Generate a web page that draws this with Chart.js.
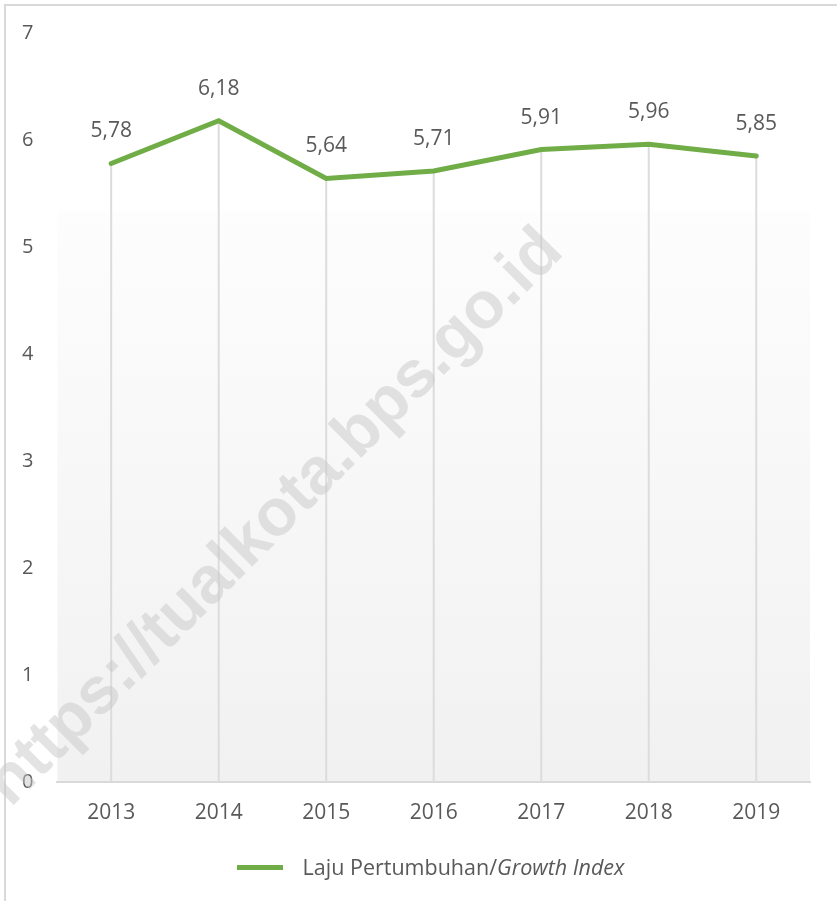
<!DOCTYPE html>
<html>
<head>
<meta charset="utf-8">
<script src="https://cdn.jsdelivr.net/npm/chart.js@4/dist/chart.umd.min.js"></script>
<style>
  html, body { margin: 0; padding: 0; background: #fff; }
  #wrap { position: relative; width: 837px; height: 901px; overflow: hidden; }
  #frame { position: absolute; left: 4px; top: 4px; width: 900px; height: 960px;
           border-left: 2px solid #d9d9d9; border-top: 2px solid #d9d9d9; }
  canvas { position: absolute; left: 0; top: 0; }
  #legend { position: absolute; left: 12px; width: 837px; top: 852px; text-align: center;
            font-family: "Open Sans", sans-serif; font-size: 21.5px; color: #595959; }
  #legend .sw { display: inline-block; width: 46px; height: 5px; background: #70ad47;
                vertical-align: middle; margin-right: 20px; position: relative; top: -2px; }
</style>
</head>
<body>
<div id="wrap">
  <div id="frame"></div>
  <canvas id="c" width="837" height="901"></canvas>
  <div id="legend"><span class="sw"></span>Laju Pertumbuhan/<i>Growth Index</i></div>
</div>
<script>
// data
const years = ['2013', '2014', '2015', '2016', '2017', '2018', '2019'];
const growth = [5.78, 6.18, 5.64, 5.71, 5.91, 5.96, 5.85];
const yTicks = [0, 1, 2, 3, 4, 5, 6, 7];

const textColor = '#595959';
const font = '"Open Sans", sans-serif';

// plot background: white top, light grey gradient rect below
const bgPlugin = {
  id: 'bg',
  beforeDraw(chart) {
    const { ctx, chartArea: a } = chart;
    const top = a.top + (a.bottom - a.top) * 0.238;
    const g = ctx.createLinearGradient(0, top, 0, a.bottom);
    g.addColorStop(0, '#fdfdfd');
    g.addColorStop(1, '#f1f1f1');
    ctx.save();
    ctx.fillStyle = g;
    ctx.fillRect(a.left, top, a.right - a.left, a.bottom - top);
    ctx.restore();
  }
};

// drop lines from each point down to the axis, plus value labels
const dropPlugin = {
  id: 'drops',
  beforeDatasetsDraw(chart) {
    const { ctx, chartArea: a } = chart;
    const meta = chart.getDatasetMeta(0);
    ctx.save();
    ctx.strokeStyle = '#dcdcdc';
    ctx.lineWidth = 2;
    meta.data.forEach(p => {
      ctx.beginPath();
      ctx.moveTo(p.x, p.y);
      ctx.lineTo(p.x, a.bottom);
      ctx.stroke();
    });
    // watermark
    ctx.translate(275, 518);
    ctx.rotate(-Math.PI / 4);
    ctx.fillStyle = 'rgba(200,200,200,0.5)';
    ctx.font = 'bold 66px "Liberation Sans", Arial, sans-serif';
    ctx.textAlign = 'center';
    ctx.textBaseline = 'middle';
    ctx.fillText('https://tualkota.bps.go.id', 0, 0);
    ctx.restore();
  },
  afterDatasetsDraw(chart) {
    const { ctx } = chart;
    const meta = chart.getDatasetMeta(0);
    ctx.save();
    ctx.fillStyle = textColor;
    ctx.font = '21px ' + font;
    ctx.textAlign = 'center';
    ctx.textBaseline = 'middle';
    meta.data.forEach((p, i) => {
      ctx.fillText(growth[i].toFixed(2).replace('.', ','), p.x, p.y - 32);
    });
    ctx.restore();
  }
};

new Chart(document.getElementById('c'), {
  type: 'line',
  data: {
    labels: years,
    datasets: [{
      label: 'Laju Pertumbuhan/Growth Index',
      data: growth,
      borderColor: '#70ad47',
      borderWidth: 5,
      pointRadius: 0,
      tension: 0,
      borderCapStyle: 'round'
    }]
  },
  options: {
    responsive: false,
    animation: false,
    layout: { padding: { left: 6, right: 27, top: 33, bottom: 64 } },
    plugins: { legend: { display: false }, tooltip: { enabled: false } },
    scales: {
      x: {
        offset: true,
        grid: { display: false },
        border: { display: true, color: '#d9d9d9', width: 2 },
        ticks: { color: textColor, font: { family: font, size: 21 }, padding: 11 }
      },
      y: {
        min: 0, max: 7,
        afterBuildTicks(axis) { axis.ticks = yTicks.map(v => ({ value: v })); },
        grid: { display: false },
        border: { display: false },
        ticks: { color: textColor, font: { family: font, size: 20 }, padding: 16 }
      }
    }
  },
  plugins: [bgPlugin, dropPlugin]
});
</script>
</body>
</html>
